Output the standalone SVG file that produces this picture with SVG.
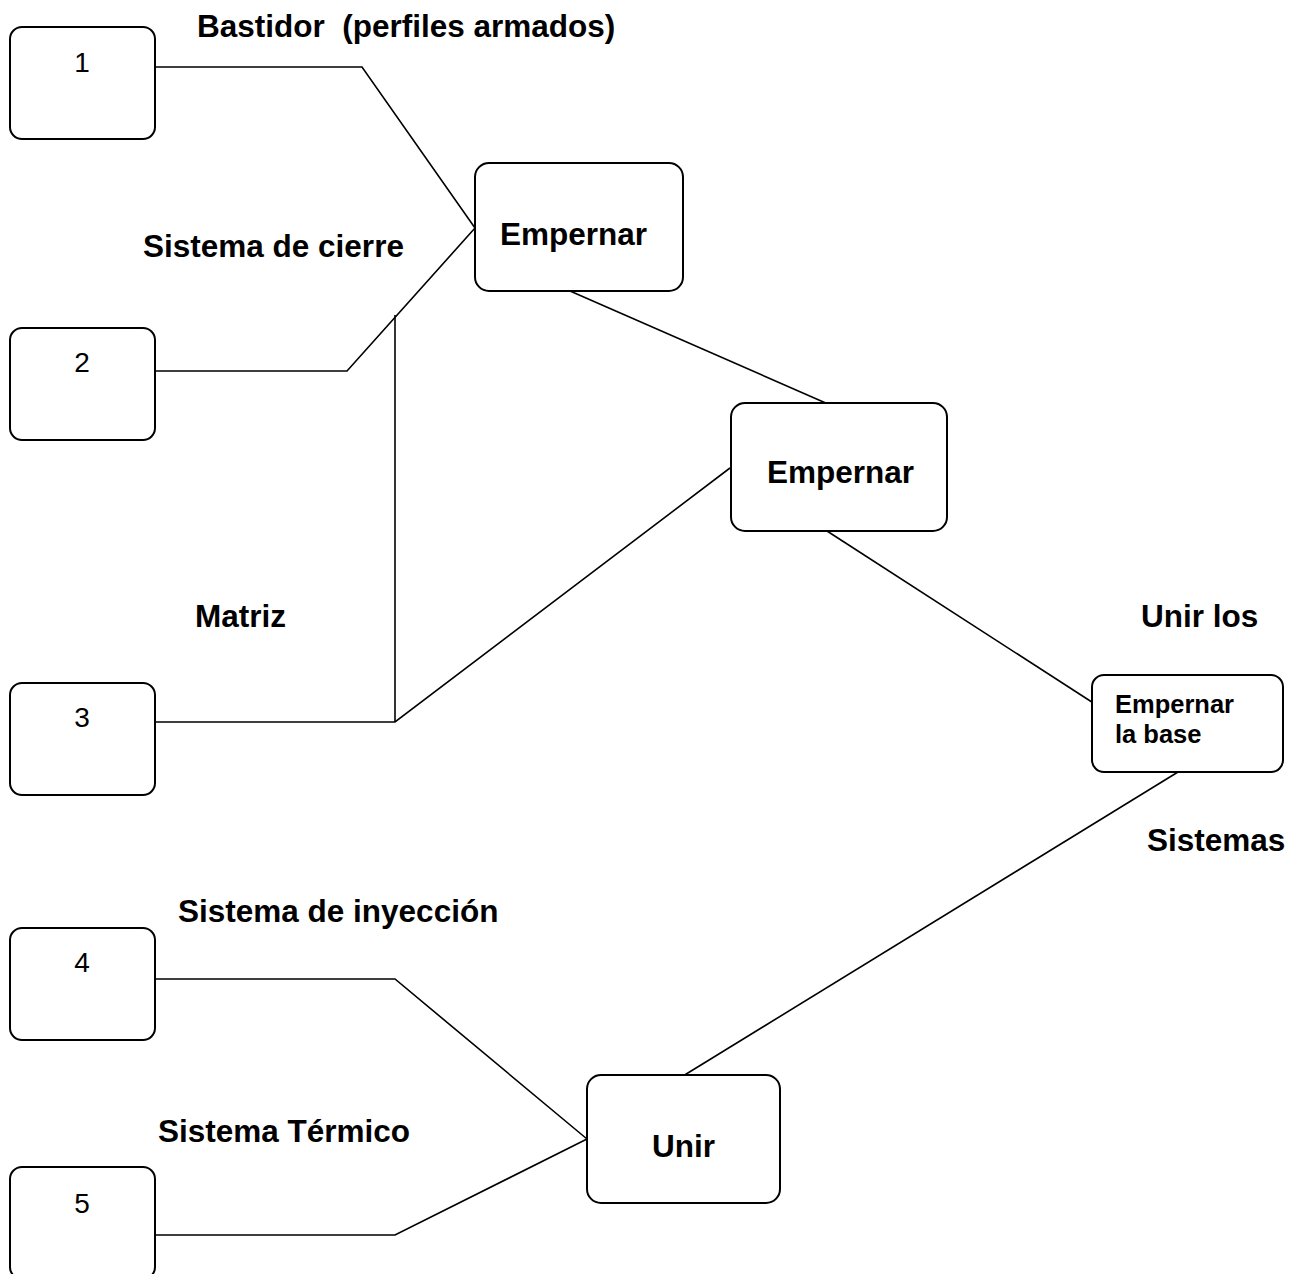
<svg xmlns="http://www.w3.org/2000/svg" width="1306" height="1274" viewBox="0 0 1306 1274">
<style>
.box{fill:#fff;stroke:#000;stroke-width:2}
.ln{fill:none;stroke:#000;stroke-width:1.6}
.num{font-family:"Liberation Sans",Arial,sans-serif;font-size:28px;fill:#000;text-anchor:middle}
.lb{font-family:"Liberation Sans",Arial,sans-serif;font-size:31.5px;font-weight:bold;fill:#000}
.sm{font-family:"Liberation Sans",Arial,sans-serif;font-size:25.5px;font-weight:bold;fill:#000}
</style>
<rect width="1306" height="1274" fill="#fff"/>
<g id="connectors">
<polyline class="ln" points="155,67 362,67 475,228"/>
<polyline class="ln" points="155,371 347,371 475,228"/>
<line class="ln" x1="395" y1="315" x2="395" y2="722"/>
<polyline class="ln" points="155,722 395,722 730,468"/>
<line class="ln" x1="570" y1="291" x2="828" y2="404"/>
<line class="ln" x1="827" y1="531" x2="1098" y2="706"/>
<line class="ln" x1="1178" y1="772" x2="683" y2="1076"/>
<polyline class="ln" points="155,979 395,979 587,1139"/>
<polyline class="ln" points="155,1235 395,1235 587,1139"/>
</g>
<g id="n1"><rect class="box" x="10" y="27" width="145" height="112" rx="12"/><text class="num" x="82" y="72">1</text></g>
<g id="n2"><rect class="box" x="10" y="328" width="145" height="112" rx="12"/><text class="num" x="82" y="372">2</text></g>
<g id="n3"><rect class="box" x="10" y="683" width="145" height="112" rx="12"/><text class="num" x="82" y="727">3</text></g>
<g id="n4"><rect class="box" x="10" y="928" width="145" height="112" rx="12"/><text class="num" x="82" y="972">4</text></g>
<g id="n5"><rect class="box" x="10" y="1167" width="145" height="112" rx="12"/><text class="num" x="82" y="1213">5</text></g>
<g id="empernar1"><rect class="box" x="475" y="163" width="208" height="128" rx="14"/><text class="lb" x="500" y="245">Empernar</text></g>
<g id="empernar2"><rect class="box" x="731" y="403" width="216" height="128" rx="14"/><text class="lb" x="767" y="483">Empernar</text></g>
<g id="empernar-base"><rect class="box" x="1092" y="675" width="191" height="97" rx="12"/><text class="sm" x="1115" y="713">Empernar</text><text class="sm" x="1115" y="743">la base</text></g>
<g id="unir"><rect class="box" x="587" y="1075" width="193" height="128" rx="14"/><text class="lb" x="652" y="1157">Unir</text></g>
<g id="labels">
<text class="lb" x="197" y="37" xml:space="preserve">Bastidor  (perfiles armados)</text>
<text class="lb" x="143" y="257">Sistema de cierre</text>
<text class="lb" x="195" y="627">Matriz</text>
<text class="lb" x="1141" y="627">Unir los</text>
<text class="lb" x="1147" y="851">Sistemas</text>
<text class="lb" x="178" y="922">Sistema de inyección</text>
<text class="lb" x="158" y="1142">Sistema Térmico</text>
</g>
</svg>
